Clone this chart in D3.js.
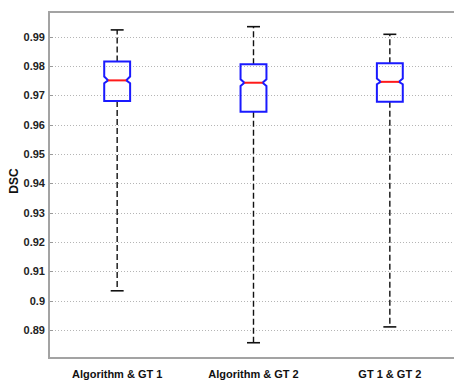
<!DOCTYPE html>
<html>
<head>
<meta charset="utf-8">
<script src="https://cdn.jsdelivr.net/npm/d3@7"></script>
<style>
  body { margin: 0; background: #fff; }
  svg { display: block; font-family: 'Liberation Sans', Arial, Helvetica, sans-serif; }
</style>
</head>
<body>
<div class="chart"></div>
<script>
var categories = ['Algorithm & GT 1', 'Algorithm & GT 2', 'GT 1 & GT 2'];
var upperWhisker = [0.9923, 0.9934, 0.9908];
var q3 = [0.9815, 0.9806, 0.9809];
var notchHigh = [0.9764, 0.9755, 0.9757];
var median = [0.9751, 0.9743, 0.9746];
var notchLow = [0.9741, 0.9732, 0.9738];
var q1 = [0.9681, 0.9644, 0.9678];
var lowerWhisker = [0.9034, 0.8857, 0.8911];
var yTicks = [0.89, 0.9, 0.91, 0.92, 0.93, 0.94, 0.95, 0.96, 0.97, 0.98, 0.99];

var width = 454,
  height = 382,
  plotTop = 12,
  plotBottom = 358,
  plotLeft = 49,
  plotRight = 458

var svg = d3.select('.chart')
  .append('svg')
  .attr('width', width)
  .attr('height', height)

var x = d3.scaleBand()
  .domain(categories)
  .range([plotLeft, plotRight])

var y = d3.scaleLinear()
  .domain([0.8805, 0.9984])
  .range([plotBottom, plotTop])

var boxHalf = x.bandwidth() * 0.095,
  capHalf = boxHalf / 2,
  notchDepth = boxHalf * 0.3

// dotted grid
svg.append('g')
  .selectAll('line')
  .data(yTicks)
  .enter().append('line')
  .attr('x1', plotLeft)
  .attr('x2', width)
  .attr('y1', function (d) { return Math.round(y(d)) + 0.5 })
  .attr('y2', function (d) { return Math.round(y(d)) + 0.5 })
  .style('stroke', '#b5b5b5')
  .style('stroke-width', 1)
  .style('stroke-dasharray', '1,2')

// y axis, matlab style labels (0.9 instead of 0.90)
var yaxis = svg.append('g')
  .attr('transform', 'translate(' + plotLeft + ',0)')
  .call(d3.axisLeft(y)
    .tickValues(yTicks)
    .tickSize(0)
    .tickPadding(4)
    .tickFormat(function (d) { return String(+d.toFixed(2)) }))
yaxis.select('.domain').remove()
yaxis.selectAll('text')
  .style('font-size', '11px')
  .style('font-weight', 'bold')
  .style('fill', '#222')

// small inward ticks
svg.append('g')
  .selectAll('line')
  .data(yTicks)
  .enter().append('line')
  .attr('x1', plotLeft)
  .attr('x2', plotLeft + 4)
  .attr('y1', function (d) { return Math.round(y(d)) + 0.5 })
  .attr('y2', function (d) { return Math.round(y(d)) + 0.5 })
  .style('stroke', '#999')

// x axis labels
var xaxis = svg.append('g')
  .attr('transform', 'translate(0,' + plotBottom + ')')
  .call(d3.axisBottom(x).tickSize(0).tickPadding(12))
xaxis.select('.domain').remove()
xaxis.selectAll('text')
  .style('font-size', '11px')
  .style('font-weight', 'bold')
  .style('fill', '#111')

// frame (right side falls outside the picture)
svg.append('path')
  .attr('d', 'M' + width + ',' + plotTop + 'H' + plotLeft + 'V' + plotBottom + 'H' + width)
  .style('fill', 'none')
  .style('stroke', '#a3a3a3')
  .style('stroke-width', 2)

svg.append('text')
  .attr('text-anchor', 'middle')
  .attr('transform', 'translate(18,181)rotate(-90)')
  .style('font-size', '12px')
  .style('font-weight', 'bold')
  .style('fill', '#111')
  .text('DSC')

var boxes = svg.append('g')
  .selectAll('g')
  .data(categories)
  .enter().append('g')

function cx(i) { return x(categories[i]) + x.bandwidth() / 2 }

// whiskers
boxes.append('line')
  .attr('x1', function (d, i) { return cx(i) })
  .attr('x2', function (d, i) { return cx(i) })
  .attr('y1', function (d, i) { return y(q3[i]) })
  .attr('y2', function (d, i) { return y(upperWhisker[i]) })
boxes.append('line')
  .attr('x1', function (d, i) { return cx(i) })
  .attr('x2', function (d, i) { return cx(i) })
  .attr('y1', function (d, i) { return y(q1[i]) })
  .attr('y2', function (d, i) { return y(lowerWhisker[i]) })
boxes.selectAll('line')
  .style('stroke', '#111')
  .style('stroke-width', 1.4)
  .style('stroke-dasharray', '6,3')

// caps
boxes.append('line')
  .attr('class', 'cap')
  .attr('x1', function (d, i) { return cx(i) - capHalf })
  .attr('x2', function (d, i) { return cx(i) + capHalf })
  .attr('y1', function (d, i) { return y(upperWhisker[i]) })
  .attr('y2', function (d, i) { return y(upperWhisker[i]) })
boxes.append('line')
  .attr('class', 'cap')
  .attr('x1', function (d, i) { return cx(i) - capHalf })
  .attr('x2', function (d, i) { return cx(i) + capHalf })
  .attr('y1', function (d, i) { return y(lowerWhisker[i]) })
  .attr('y2', function (d, i) { return y(lowerWhisker[i]) })
boxes.selectAll('.cap')
  .style('stroke', '#111')
  .style('stroke-width', 1.6)
  .style('stroke-dasharray', null)

// notched boxes
boxes.append('path')
  .attr('d', function (d, i) {
    var l = cx(i) - boxHalf, r = cx(i) + boxHalf
    var p = d3.path()
    p.moveTo(l, y(q3[i]))
    p.lineTo(r, y(q3[i]))
    p.lineTo(r, y(notchHigh[i]))
    p.lineTo(r - notchDepth, y(median[i]))
    p.lineTo(r, y(notchLow[i]))
    p.lineTo(r, y(q1[i]))
    p.lineTo(l, y(q1[i]))
    p.lineTo(l, y(notchLow[i]))
    p.lineTo(l + notchDepth, y(median[i]))
    p.lineTo(l, y(notchHigh[i]))
    p.closePath()
    return p.toString()
  })
  .style('fill', 'none')
  .style('stroke', '#1a1aff')
  .style('stroke-width', 2)

// medians
boxes.append('line')
  .attr('x1', function (d, i) { return cx(i) - boxHalf + notchDepth })
  .attr('x2', function (d, i) { return cx(i) + boxHalf - notchDepth })
  .attr('y1', function (d, i) { return y(median[i]) })
  .attr('y2', function (d, i) { return y(median[i]) })
  .style('stroke', '#ff1a1a')
  .style('stroke-width', 2)
</script>
</body>
</html>
